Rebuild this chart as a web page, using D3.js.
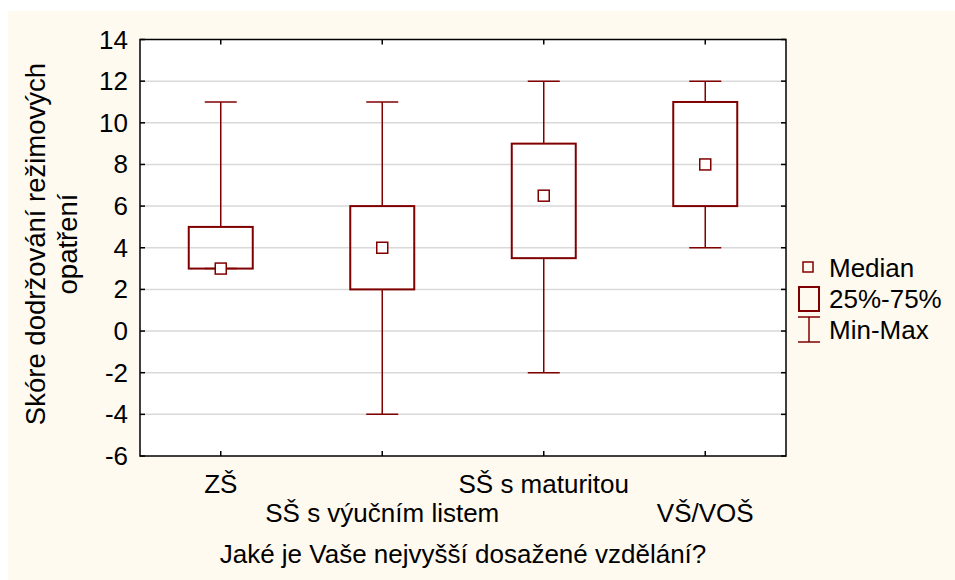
<!DOCTYPE html>
<meta charset="utf-8">
<style>
  body { margin: 0; background: #fff; }
  text { font-family: "Liberation Sans", Arial, sans-serif; fill: #000; font-size: 26px; }
  .grid line { stroke: #d9d9d9; stroke-width: 1.5px; }
</style>
<svg width="955" height="580"></svg>
<script src="https://d3js.org/d3.v7.min.js"></script>
<script>

  // values
  var categories = ["ZŠ", "SŠ s výučním listem", "SŠ s maturitou", "VŠ/VOŠ"];
  var mins    = [3, -4, -2, 4];
  var q1s     = [3, 2, 3.5, 6];
  var medians = [3, 4, 6.5, 8];
  var q3s     = [5, 6, 9, 11];
  var maxs    = [11, 11, 12, 12];
  var yTicks  = [-6, -4, -2, 0, 2, 4, 6, 8, 10, 12, 14];
  var legendLabels = ["Median", "25%-75%", "Min-Max"];

  var red = "#800000";
  var svg = d3.select("svg");

  var pL = 140, pR = 786, pT = 39.5, pB = 456;

  svg.append("rect")
    .attr("x", 8).attr("y", 11).attr("width", 947).attr("height", 569)
    .attr("fill", "#fffaf0");

  svg.append("rect")
    .attr("x", pL).attr("y", pT).attr("width", pR - pL).attr("height", pB - pT)
    .attr("fill", "#fff");

  var x = d3.scaleBand().domain(categories).range([pL, pR]);
  var y = d3.scaleLinear().domain([-6, 14]).range([pB, pT]);
  var cx = function(d) { return x(d) + x.bandwidth() / 2; };

  var boxes = categories.map(function(c, i) {
    return {cat: c, min: mins[i], q1: q1s[i], med: medians[i], q3: q3s[i], max: maxs[i]};
  });

  // gridlines
  svg.append("g").attr("class", "grid")
    .selectAll("line")
    .data(yTicks.slice(1, -1))
    .enter().append("line")
    .attr("x1", pL).attr("x2", pR)
    .attr("y1", function(d) { return y(d); })
    .attr("y2", function(d) { return y(d); });

  // boxes
  var g = svg.append("g").selectAll("g")
    .data(boxes)
    .enter().append("g");

  g.append("line")
    .attr("x1", function(d) { return cx(d.cat); })
    .attr("x2", function(d) { return cx(d.cat); })
    .attr("y1", function(d) { return y(d.max); })
    .attr("y2", function(d) { return y(d.q3); })
    .attr("stroke", red).attr("stroke-width", 1.5);

  g.append("line")
    .attr("x1", function(d) { return cx(d.cat); })
    .attr("x2", function(d) { return cx(d.cat); })
    .attr("y1", function(d) { return y(d.q1); })
    .attr("y2", function(d) { return y(d.min); })
    .attr("stroke", red).attr("stroke-width", 1.5);

  ["min", "max"].forEach(function(k) {
    g.append("line")
      .attr("x1", function(d) { return cx(d.cat) - 16; })
      .attr("x2", function(d) { return cx(d.cat) + 16; })
      .attr("y1", function(d) { return y(d[k]); })
      .attr("y2", function(d) { return y(d[k]); })
      .attr("stroke", red).attr("stroke-width", 1.5);
  });

  g.append("rect")
    .attr("x", function(d) { return cx(d.cat) - 32; })
    .attr("width", 64)
    .attr("y", function(d) { return y(d.q3); })
    .attr("height", function(d) { return y(d.q1) - y(d.q3); })
    .attr("fill", "none").attr("stroke", red).attr("stroke-width", 2);

  g.append("rect")
    .attr("x", function(d) { return cx(d.cat) - 5.5; })
    .attr("y", function(d) { return y(d.med) - 5.5; })
    .attr("width", 11).attr("height", 11)
    .attr("fill", "#fff").attr("stroke", red).attr("stroke-width", 1.5);

  // frame and inward ticks
  svg.append("rect")
    .attr("x", pL).attr("y", pT).attr("width", pR - pL).attr("height", pB - pT)
    .attr("fill", "none").attr("stroke", "#000").attr("stroke-width", 1.5);

  var ticks = svg.append("g").attr("stroke", "#000").attr("stroke-width", 1.5);
  yTicks.forEach(function(t) {
    ticks.append("line").attr("x1", pL).attr("x2", pL + 5).attr("y1", y(t)).attr("y2", y(t));
    ticks.append("line").attr("x1", pR - 5).attr("x2", pR).attr("y1", y(t)).attr("y2", y(t));
  });
  categories.forEach(function(c) {
    ticks.append("line").attr("x1", cx(c)).attr("x2", cx(c)).attr("y1", pT).attr("y2", pT + 5);
    ticks.append("line").attr("x1", cx(c)).attr("x2", cx(c)).attr("y1", pB - 5).attr("y2", pB);
  });

  // tick labels
  svg.append("g").selectAll("text")
    .data(yTicks)
    .enter().append("text")
    .attr("x", 128)
    .attr("y", function(d) { return y(d) + 9; })
    .attr("text-anchor", "end")
    .text(function(d) { return d; });

  svg.append("g").selectAll("text")
    .data(categories)
    .enter().append("text")
    .attr("x", function(d) { return cx(d); })
    .attr("y", function(d, i) { return i % 2 ? 522 : 493; })
    .attr("text-anchor", "middle")
    .text(function(d) { return d; });

  // axis titles
  svg.append("text")
    .attr("x", (pL + pR) / 2).attr("y", 563)
    .attr("text-anchor", "middle")
    .text("Jaké je Vaše nejvyšší dosažené vzdělání?");

  var ytitle = svg.append("text")
    .attr("transform", "translate(0,244) rotate(-90)")
    .attr("text-anchor", "middle")
    .style("font-size", "27.5px");
  ytitle.append("tspan").attr("x", 0).attr("y", 45).text("Skóre dodržování režimových");
  ytitle.append("tspan").attr("x", 0).attr("y", 77).text("opatření");

  // legend
  var lg = svg.append("g");
  lg.append("rect").attr("x", 803).attr("y", 262).attr("width", 10).attr("height", 10)
    .attr("fill", "none").attr("stroke", red).attr("stroke-width", 1.5);
  lg.append("rect").attr("x", 799).attr("y", 287).attr("width", 20).attr("height", 24)
    .attr("fill", "none").attr("stroke", red).attr("stroke-width", 2);
  lg.append("line").attr("x1", 809).attr("x2", 809).attr("y1", 317).attr("y2", 342)
    .attr("stroke", red).attr("stroke-width", 1.5);
  lg.append("line").attr("x1", 798).attr("x2", 820).attr("y1", 317).attr("y2", 317)
    .attr("stroke", red).attr("stroke-width", 1.5);
  lg.append("line").attr("x1", 798).attr("x2", 820).attr("y1", 342).attr("y2", 342)
    .attr("stroke", red).attr("stroke-width", 1.5);

  lg.selectAll("text")
    .data(legendLabels)
    .enter().append("text")
    .attr("x", 829)
    .attr("y", function(d, i) { return 277 + i * 31; })
    .text(function(d) { return d; });

</script>
